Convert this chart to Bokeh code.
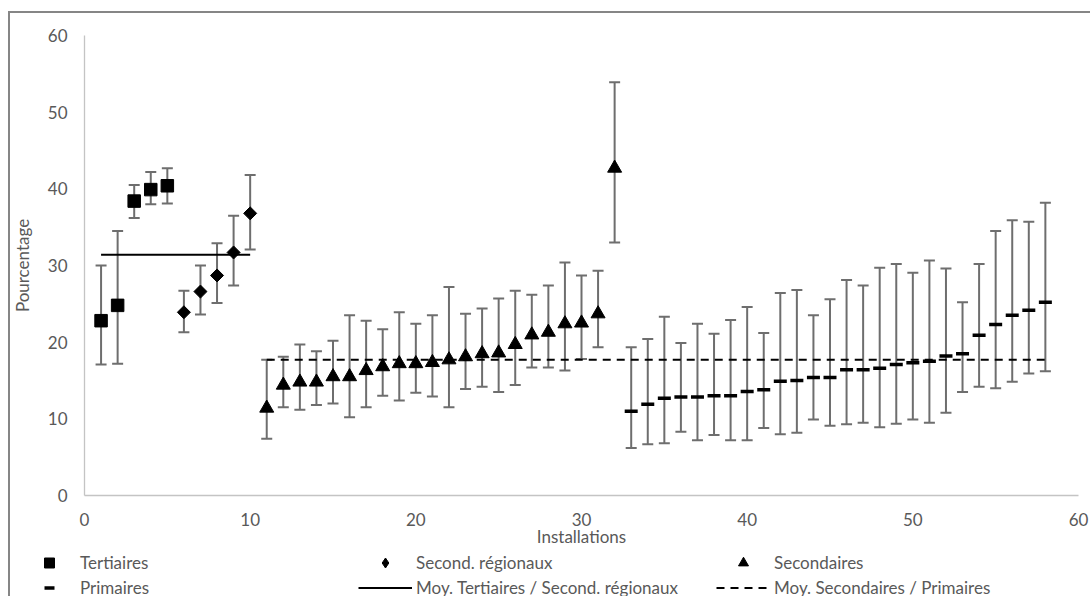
import math
from bokeh.plotting import figure
from bokeh.layouts import column
from bokeh.models import (ColumnDataSource, Whisker, TeeHead, Legend, LegendItem,
                          FixedTicker, Range1d)
from bokeh.embed import file_html
from bokeh.resources import INLINE

# ---------------- data ----------------
tert_x = [1, 2, 3, 4, 5]
tert_y = [22.8, 24.8, 38.4, 39.9, 40.4]
tert_lo = [17.1, 17.2, 36.2, 38.0, 38.1]
tert_hi = [30.0, 34.5, 40.5, 42.2, 42.7]

sreg_x = [6, 7, 8, 9, 10]
sreg_y = [23.9, 26.6, 28.7, 31.7, 36.8]
sreg_lo = [21.3, 23.6, 25.1, 27.4, 32.1]
sreg_hi = [26.7, 30.0, 32.9, 36.5, 41.8]

sec_x = list(range(11, 33))
sec_y = [11.4, 14.4, 14.8, 14.8, 15.5, 15.5, 16.3, 16.8, 17.2, 17.2, 17.35,
         17.7, 18.1, 18.5, 18.6, 19.7, 20.95, 21.3, 22.4, 22.5, 23.7, 42.7]
sec_lo = [7.4, 11.5, 11.2, 11.8, 12.0, 10.2, 11.5, 13.0, 12.4, 13.4, 12.9,
          11.5, 13.9, 14.2, 13.5, 14.4, 16.7, 16.7, 16.3, 17.8, 19.35, 33.0]
sec_hi = [17.7, 18.1, 19.7, 18.8, 20.2, 23.5, 22.8, 21.7, 23.9, 22.4, 23.5,
          27.2, 23.7, 24.4, 25.7, 26.7, 26.2, 27.4, 30.4, 28.7, 29.3, 53.9]

prim_x = list(range(33, 59))
prim_y = [11.0, 11.9, 12.7, 12.85, 12.85, 13.0, 13.0, 13.55, 13.8, 14.9, 15.0,
          15.4, 15.4, 16.4, 16.4, 16.6, 17.1, 17.3, 17.5, 18.2, 18.5, 20.9,
          22.3, 23.5, 24.15, 25.2]
prim_lo = [6.2, 6.7, 6.8, 8.3, 7.2, 7.9, 7.2, 7.2, 8.8, 8.0, 8.2, 9.9, 9.1,
           9.3, 9.5, 8.9, 9.35, 9.9, 9.5, 10.8, 13.5, 14.2, 14.0, 14.85, 15.9, 16.2]
prim_hi = [19.35, 20.4, 23.3, 19.9, 22.4, 21.1, 22.9, 24.6, 21.2, 26.4, 26.8,
           23.5, 25.6, 28.1, 27.4, 29.7, 30.2, 29.05, 30.65, 29.6, 25.2, 30.2,
           34.5, 35.9, 35.7, 38.2]

mean_ts_x = [1, 10]
mean_ts_y = [31.4, 31.4]
mean_sp_x = [11, 58]
mean_sp_y = [17.7, 17.7]

axis_ticks = [0, 10, 20, 30, 40, 50, 60]

labels = ["Tertiaires", "Primaires",
          "Second. régionaux", "Moy. Tertiaires / Second. régionaux",
          "Secondaires", "Moy. Secondaires / Primaires"]

# ---------------- style ----------------
FONT = "Lato"
TXT = "#595959"
ERR = "#6e6e6e"
FS = "17px"
BORDER = "#868686"

STY = {
    "tert": dict(marker="square", size=12.5, fill_color="black", line_color="black"),
    "sreg": dict(marker="square", angle=math.pi / 4, size=9.2,
                 fill_color="black", line_color="black"),
    "sec": dict(marker="triangle", size=14, fill_color="black", line_color="black"),
    "prim": dict(marker="dash", size=13, line_color="black", line_width=3.5),
    "m1": dict(line_color="black", line_width=2),
    "m2": dict(line_color="black", line_width=2, line_dash="8 6"),
}
# legend keys ignore marker rotation, so the legend uses the diamond marker
STY_KEY = dict(STY)
STY_KEY["sreg"] = dict(marker="diamond", size=13, fill_color="black", line_color="black")


def draw_series(fig, sty):
    return {
        "m1": fig.line(mean_ts_x, mean_ts_y, **sty["m1"]),
        "m2": fig.line(mean_sp_x, mean_sp_y, **sty["m2"]),
        "tert": fig.scatter(tert_x, tert_y, **sty["tert"]),
        "sreg": fig.scatter(sreg_x, sreg_y, **sty["sreg"]),
        "sec": fig.scatter(sec_x, sec_y, **sty["sec"]),
        "prim": fig.scatter(prim_x, prim_y, **sty["prim"]),
    }


# ---------------- main chart ----------------
p = figure(width=1090, height=549, x_range=Range1d(0, 60), y_range=Range1d(0, 60),
           output_backend="svg", toolbar_location=None, frame_align=False,
           min_border_left=84, min_border_right=12, min_border_top=35,
           min_border_bottom=52)
p.outline_line_color = None
p.xgrid.visible = False
p.ygrid.visible = False
p.background_fill_color = "white"
p.border_fill_color = None
p.styles = {"box-shadow": f"inset 8px 11px 0 0 #ffffff, inset 10px 13px 0 0 {BORDER}",
            "background-color": "#ffffff"}


def add_err(x, lo, hi):
    src = ColumnDataSource(dict(x=x, lo=lo, hi=hi))
    w = Whisker(source=src, base="x", lower="lo", upper="hi",
                line_color=ERR, line_width=2,
                upper_head=TeeHead(size=11, line_color=ERR, line_width=2),
                lower_head=TeeHead(size=11, line_color=ERR, line_width=2))
    p.add_layout(w)


add_err(tert_x, tert_lo, tert_hi)
add_err(sreg_x, sreg_lo, sreg_hi)
add_err(sec_x, sec_lo, sec_hi)
add_err(prim_x, prim_lo, prim_hi)

draw_series(p, STY)

for ax in (p.xaxis[0], p.yaxis[0]):
    ax.ticker = FixedTicker(ticks=axis_ticks)
    ax.axis_line_color = "#c4c4c4"
    ax.axis_line_width = 1.3
    ax.major_tick_line_color = None
    ax.minor_tick_line_color = None
    ax.major_tick_out = 0
    ax.major_tick_in = 0
    ax.major_label_text_font = FONT
    ax.major_label_text_font_size = FS
    ax.major_label_text_color = TXT
    ax.axis_label_text_font = FONT
    ax.axis_label_text_font_size = FS
    ax.axis_label_text_color = TXT
    ax.axis_label_text_font_style = "normal"

p.xaxis.axis_label = "Installations"
p.yaxis.axis_label = "Pourcentage"
p.xaxis.major_label_standoff = 17
p.xaxis.axis_label_standoff = -3
p.yaxis.major_label_standoff = 17
p.yaxis.axis_label_standoff = 12

# ---------------- legend strip ----------------
# same series drawn in a strip whose value range shows none of them; only the
# legend keys are visible there
q = figure(width=1090, height=47, x_range=Range1d(0, 60), y_range=Range1d(1000, 1001),
           output_backend="svg", toolbar_location=None, frame_align=False,
           x_axis_location=None, y_axis_location=None,
           min_border_left=0, min_border_right=0, min_border_top=0, min_border_bottom=0)
q.xgrid.visible = False
q.ygrid.visible = False
q.outline_line_color = None
q.background_fill_color = None
q.border_fill_color = None
q.styles = {"box-shadow": f"inset 8px 0 0 0 #ffffff, inset 10px 0 0 0 {BORDER}",
            "background-color": "#ffffff"}

lr = draw_series(q, STY_KEY)

groups = [
    (22, [(labels[0], lr["tert"]), (labels[1], lr["prim"])]),
    (358, [(labels[2], lr["sreg"]), (labels[3], lr["m1"])]),
    (716, [(labels[4], lr["sec"]), (labels[5], lr["m2"])]),
]
for x0, its in groups:
    lg = Legend(items=[LegendItem(label=t, renderers=[r]) for t, r in its],
                location=(x0, -3.5), orientation="vertical",
                glyph_width=54, glyph_height=25, label_height=25,
                spacing=0, padding=0, margin=0, label_standoff=4,
                border_line_color=None, background_fill_alpha=0,
                label_text_font=FONT, label_text_font_size=FS,
                label_text_color=TXT)
    q.add_layout(lg)

layout = column(p, q)
open("out.html", "w").write(file_html(layout, INLINE))
